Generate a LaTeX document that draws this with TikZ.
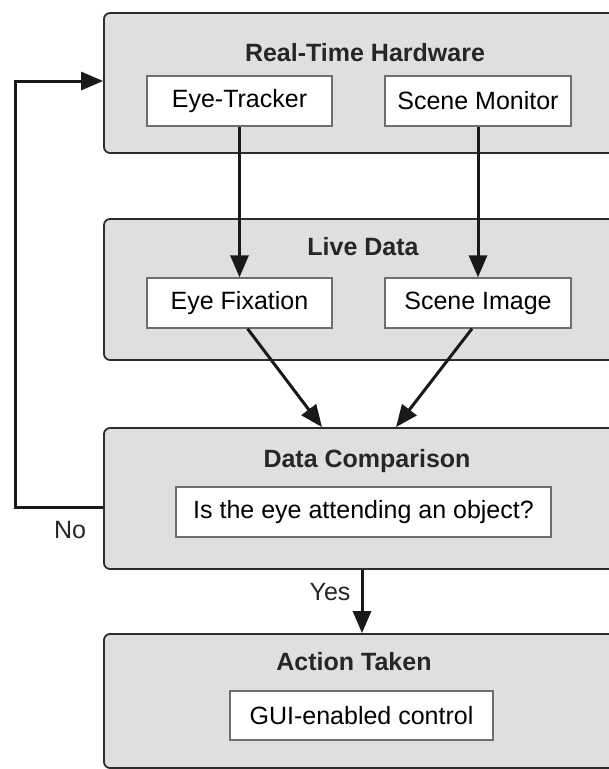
\documentclass[tikz,border=0pt]{standalone}
\usepackage{fontspec}
\setmainfont{Liberation Sans}
\usetikzlibrary{arrows.meta}

\begin{document}
\begin{tikzpicture}[x=1pt,y=-1pt,
  group/.style={draw=grpline,fill=grpfill,line width=1.8pt,rounded corners=6pt,minimum width=512pt,inner sep=0pt},
  item/.style={draw=itemline,fill=white,line width=1.3pt,minimum height=50pt,inner sep=0pt,font=\fontsize{25}{30}\selectfont},
  title/.style={font=\fontsize{25}{30}\selectfont\bfseries,text=black!85},
  lbl/.style={font=\fontsize{25}{30}\selectfont,text=black!85},
  arr/.style={-{Triangle[length=22pt,width=18pt]},line width=3pt,black!90}]
% Define colours
\definecolor{grpfill}{RGB}{223,223,221}
\definecolor{grpline}{RGB}{45,45,45}
\definecolor{itemline}{RGB}{110,110,110}

\useasboundingbox (0,0) rectangle (609,769);
\begin{scope}
\clip (0,0) rectangle (609,769);

% Draw group boxes
\node[group,minimum height=140pt] (hw) at (360,83) {};
\node[group,minimum height=141pt] (live) at (360,289.5) {};
\node[group,minimum height=141pt] (cmp) at (360,498.5) {};
\node[group,minimum height=134pt] (act) at (360,701) {};
\end{scope}

% Add titles
\node[title] (hwtitle) at (365,53) {Real-Time Hardware};
\node[title] (livetitle) at (363,247) {Live Data};
\node[title] (cmptitle) at (367,461) {Data Comparison};
\node[title] (acttitle) at (354,662) {Action Taken};

% Draw inner boxes
\node[item,minimum width=185pt] (tracker) at (239.5,101) {Eye-Tracker};
\node[item,minimum width=186pt] (monitor) at (478,101) {Scene Monitor};
\node[item,minimum width=185pt] (fixation) at (239.5,303) {Eye Fixation};
\node[item,minimum width=186pt] (image) at (478,303) {Scene Image};
\node[item,minimum width=375pt] (question) at (363.5,512) {Is the eye attending an object?};
\node[item,minimum width=263pt,minimum height=49pt] (gui) at (361.5,715.5) {GUI-enabled control};

% Draw connections
\draw[arr] (tracker) -- (fixation);
\draw[arr] (monitor) -- (image);
\draw[arr] ([xshift=8pt]fixation.south) -- ([xshift=-38pt]cmp.north);
\draw[arr] ([xshift=-6pt]image.south) -- ([xshift=36pt]cmp.north);
\draw[arr] ([xshift=2pt]cmp.south) -- ([xshift=2pt]act.north);
\coordinate (loop) at (15,507);
\draw[arr] ([yshift=-8.5pt]cmp.west) -- (loop) |- ([yshift=2pt]hw.west);

% Add answers
\node[lbl,anchor=east] (yes) at (354,592) {Yes};
\node[lbl] (no) at (70,530) {No};
\end{tikzpicture}
\end{document}
